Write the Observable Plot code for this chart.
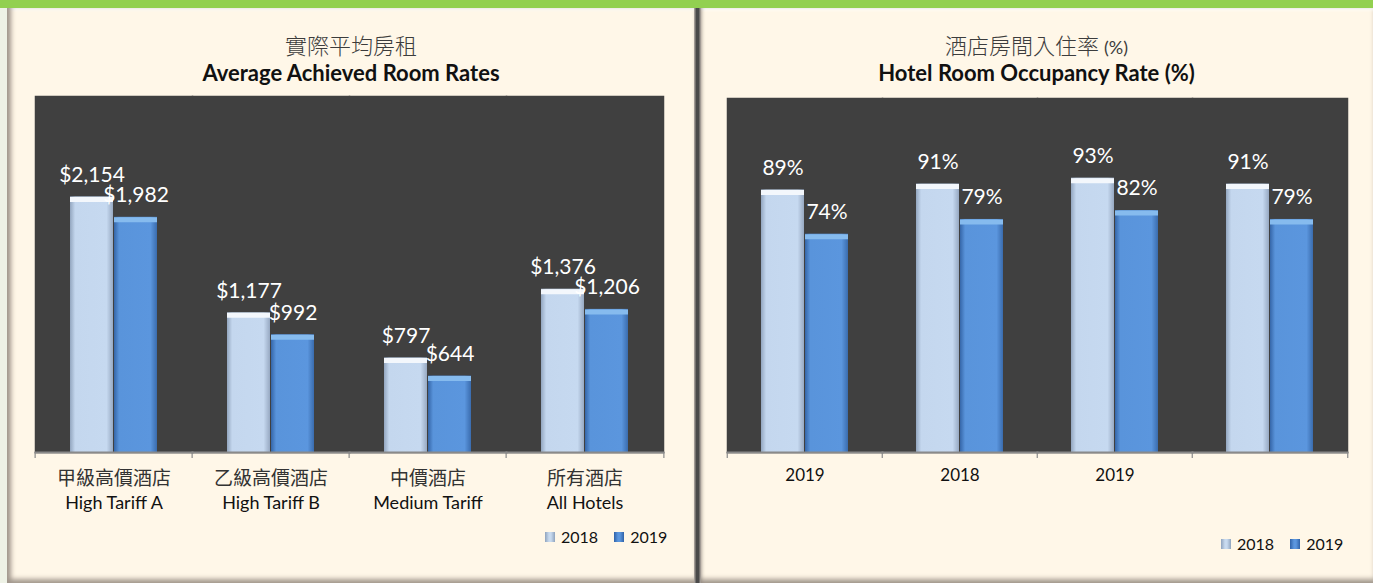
<!DOCTYPE html>
<html>
<head>
<meta charset="utf-8">
<script src="https://cdn.jsdelivr.net/npm/d3@7"></script>
<script src="https://cdn.jsdelivr.net/npm/@observablehq/plot@0.6"></script>
<style>
  html, body { margin: 0; padding: 0; }
  body { width: 1373px; height: 583px; position: relative; overflow: hidden; background: #eef2e6; font-family: Lato, "Open Sans", sans-serif; }
  .topbar { position: absolute; left: 0; top: 0; width: 1373px; height: 8px; background: #92d050; }
  .panel { position: absolute; top: 8px; height: 575px; background: #fff7e8;
    box-shadow: inset 6px 0 5px -2px #a0968c, inset 0 4px 3px -2px #ffffff, inset 0 -6px 5px -2px #a59b90; }
  #pl { left: 7px; width: 688px; }
  #pr { left: 700px; width: 673px; box-shadow: inset 3px 0 4px -2px #8c847c, inset 0 4px 3px -2px #ffffff, inset 0 -6px 5px -2px #a59b90; }
  .divider { position: absolute; left: 694px; top: 8px; width: 7px; height: 575px;
    background: linear-gradient(to right, #b8b0a8, #4a4a4a 35%, #4a4a4a 65%, #b8b0a8); }
  .t-zh { position: absolute; width: 100%; text-align: center; font-family: "Noto Sans CJK TC", sans-serif; font-weight: 300; font-size: 22px; color: #3c3c3c; top: 21px; line-height: 30px; }
  .t-zh span { font-family: Lato, sans-serif; font-size: 18px; font-weight: 400; }
  .t-en { position: absolute; width: 100%; text-align: center; font-family: Lato, sans-serif; font-weight: 700; font-size: 22px; color: #111; top: 51px; line-height: 28px; }
  .chart { position: absolute; top: 88px; }
  .legend { position: absolute; font-family: Lato, sans-serif; font-size: 16px; color: #111; display: flex; align-items: center; gap: 4px; }
  .sw { display: inline-block; width: 10px; height: 10px; margin-right: 2px; }
  .sw18 { background: linear-gradient(to right, #8fa3bd, #c8daef 40%, #c8daef 60%, #8fa3bd); }
  .sw19 { background: linear-gradient(to right, #2f62a8, #5b96de 40%, #5b96de 60%, #2f62a8); }
  .legend .gap { width: 8px; }
</style>
</head>
<body>
<svg width="0" height="0" style="position:absolute">
  <defs>
    <linearGradient id="g18" x1="0" x2="1" y1="0" y2="0">
      <stop offset="0" stop-color="#93a6bf"/>
      <stop offset="0.12" stop-color="#c4d7ee"/>
      <stop offset="0.85" stop-color="#c6d9f0"/>
      <stop offset="1" stop-color="#97a9c2"/>
    </linearGradient>
    <linearGradient id="g19" x1="0" x2="1" y1="0" y2="0">
      <stop offset="0" stop-color="#3566a8"/>
      <stop offset="0.12" stop-color="#5994db"/>
      <stop offset="0.85" stop-color="#5b96de"/>
      <stop offset="1" stop-color="#3a6cae"/>
    </linearGradient>
  </defs>
</svg>
<div class="topbar"></div>
<div class="panel" id="pl">
  <div class="t-zh">實際平均房租</div>
  <div class="t-en">Average Achieved Room Rates</div>
</div>
<div class="panel" id="pr">
  <div class="t-zh">酒店房間入住率 <span>(%)</span></div>
  <div class="t-en">Hotel Room Occupancy Rate (%)</div>
</div>
<div class="divider"></div>
<div class="chart" id="c1" style="left:0px"></div>
<div class="chart" id="c2" style="left:700px"></div>
<div class="legend" style="left:545px; top:527px;"><span class="sw sw18"></span>2018<span class="gap"></span><span class="sw sw19"></span>2019</div>
<div class="legend" style="left:1221px; top:534px;"><span class="sw sw18"></span>2018<span class="gap"></span><span class="sw sw19"></span>2019</div>
<script>
// ---- data ----
const years = ["2018", "2019"];
const rateCatsEn = ["High Tariff A", "High Tariff B", "Medium Tariff", "All Hotels"];
const rateCatsZh = ["甲級高價酒店", "乙級高價酒店", "中價酒店", "所有酒店"];
const rate2018 = [2154, 1177, 797, 1376];
const rate2019 = [1982, 992, 644, 1206];

const occCatIds = ["g1", "g2", "g3", "g4"];
const occCatLabels = ["2019", "2018", "2019", ""];
const occ2018 = [89, 91, 93, 91];
const occ2019 = [74, 79, 82, 79];

const rateData = rateCatsEn.flatMap((c, i) => [
  {cat: c, year: "2018", value: rate2018[i]},
  {cat: c, year: "2019", value: rate2019[i]}
]);
const occData = occCatIds.flatMap((c, i) => [
  {cat: c, year: "2018", value: occ2018[i]},
  {cat: c, year: "2019", value: occ2019[i]}
]);

function barChart({data, cats, width, marginLeft, marginRight, marginTop, plotH, yMax, fmt, labelAxes}) {
  const height = marginTop + plotH + 70;
  const bw = (width - marginLeft - marginRight) / cats.length;
  const d18 = data.filter(d => d.year === "2018");
  const d19 = data.filter(d => d.year === "2019");
  const marks = [
    Plot.frame({fill: "#404040", stroke: "#404040", strokeWidth: 1.5}),
    Plot.barY(d18, {fx: "cat", x: "year", y: "value", fill: "url(#g18)"}),
    Plot.barY(d19, {fx: "cat", x: "year", y: "value", fill: "url(#g19)"}),
    Plot.tickY(d18, {fx: "cat", x: "year", y: "value", stroke: "#f3f7fc", strokeWidth: 5, dy: 2.5}),
    Plot.tickY(d19, {fx: "cat", x: "year", y: "value", stroke: "#86bbee", strokeWidth: 5, dy: 2.5}),
    Plot.frame({anchor: "bottom", stroke: "#8a8a8a", strokeWidth: 2}),
    // boundary ticks of the category axis
    Plot.axisFx({anchor: "bottom", tickSize: 6, dx: -bw / 2, tickFormat: () => "", label: null, stroke: "#8a8a8a", strokeWidth: 1.2}),
    Plot.axisFx({anchor: "bottom", ticks: [cats[cats.length - 1]], tickSize: 6, dx: bw / 2, tickFormat: () => "", label: null, stroke: "#8a8a8a", strokeWidth: 1.2}),
    Plot.text(data, {fx: "cat", x: "year", y: "value", text: d => fmt(d.value), dy: -22, fill: "white", fontSize: 21, fontFamily: "Lato"}),
    ...labelAxes
  ];
  return Plot.plot({
    width, height, marginLeft, marginRight, marginTop, marginBottom: 70,
    style: {background: "transparent", fontFamily: "Lato", overflow: "visible"},
    fx: {domain: cats, padding: 0, label: null},
    x: {domain: years, paddingInner: 0.03, paddingOuter: 0.77, axis: null},
    y: {domain: [0, yMax], axis: null},
    marks
  });
}

const c1 = barChart({
  data: rateData, cats: rateCatsEn, width: 695, marginLeft: 33, marginRight: 31, marginTop: 8, plotH: 356, yMax: 3000,
  fmt: v => "$" + d3.format(",")(v),
  labelAxes: [
    Plot.axisFx({anchor: "bottom", tickSize: 0, tickPadding: 19, label: null, fontSize: 19, fontFamily: "Noto Sans CJK TC", fill: "#333",
      tickFormat: d => rateCatsZh[rateCatsEn.indexOf(d)]}),
    Plot.axisFx({anchor: "bottom", tickSize: 0, tickPadding: 44, label: null, fontSize: 18, fontFamily: "Lato", fill: "#111",
      tickFormat: d => d})
  ]
});
document.getElementById("c1").append(c1);

const c2 = barChart({
  data: occData, cats: occCatIds, width: 673, marginLeft: 26, marginRight: 25, marginTop: 10, plotH: 354, yMax: 120,
  fmt: v => v + "%",
  labelAxes: [
    Plot.axisFx({anchor: "bottom", tickSize: 0, tickPadding: 16, label: null, fontSize: 17, fontFamily: "Lato", fill: "#111",
      tickFormat: d => occCatLabels[occCatIds.indexOf(d)]})
  ]
});
document.getElementById("c2").append(c2);
</script>
</body>
</html>
